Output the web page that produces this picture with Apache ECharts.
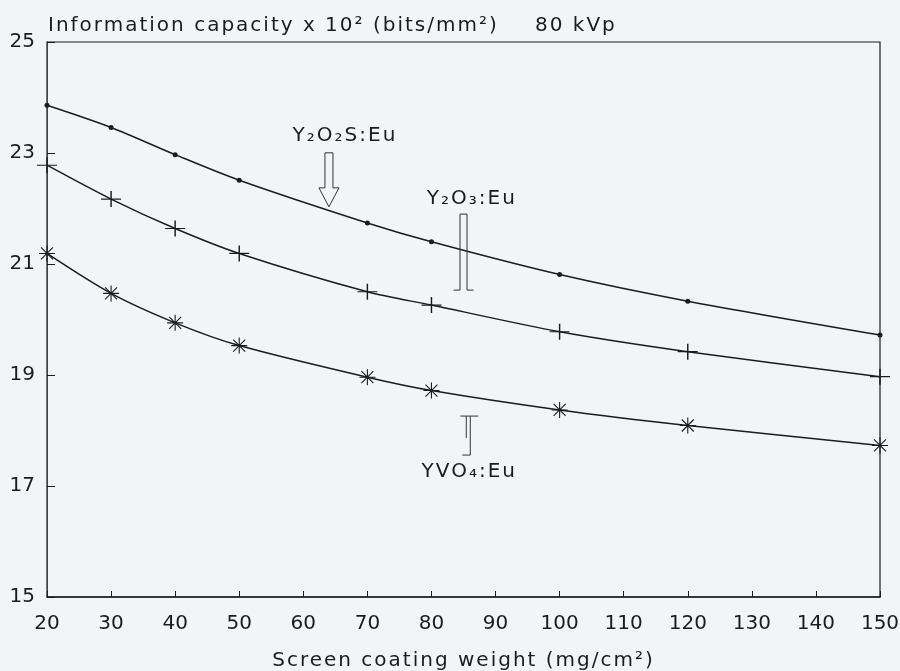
<!DOCTYPE html>
<html>
<head>
<meta charset="utf-8">
<script src="https://cdn.jsdelivr.net/npm/echarts@6/dist/echarts.min.js"></script>
<style>
  html, body { margin: 0; padding: 0; background: #f3f4f6; }
  #main { width: 900px; height: 671px; }
</style>
</head>
<body>
<div id="main"></div>
<script>
  // screen coating weight (mg/cm2)
  const weights = [20, 30, 40, 50, 70, 80, 100, 120, 150];
  // information capacity x 10^2 (bits/mm2)
  const y2o2s = [23.86, 23.46, 22.97, 22.51, 21.74, 21.40, 20.81, 20.33, 19.72];
  const y2o3 = [22.78, 22.17, 21.64, 21.19, 20.50, 20.26, 19.78, 19.42, 18.97];
  const yvo4 = [21.19, 20.47, 19.94, 19.53, 18.96, 18.72, 18.37, 18.09, 17.73];
  const yTicks = [15, 17, 19, 21, 23, 25];
  const xRange = [20, 150];

  const ink = '#1c1c1c';
  const font = 'DejaVu Sans';
  // the plotter lettering is widely spaced; texts in this family get extra tracking
  const spaced = '"DejaVu Sans", sans-serif';

  const fillText = CanvasRenderingContext2D.prototype.fillText;
  CanvasRenderingContext2D.prototype.fillText = function () {
    this.letterSpacing = this.font.indexOf('sans-serif') >= 0 ? '2px' : '0px';
    return fillText.apply(this, arguments);
  };

  const plus = 'path://M0,8 L20,8 M10,0 L10,16';
  const star = 'path://M0,8 L16,8 M8,0 L8,16 M2,2 L14,14 M14,2 L2,14';

  function pairs(ys) {
    return weights.map(function (w, i) { return [w, ys[i]]; });
  }

  function curve(name, ys, symbol, size, width) {
    return {
      name: name,
      type: 'line',
      data: pairs(ys),
      smooth: 0.3,
      symbol: symbol,
      symbolSize: size,
      showAllSymbol: true,
      lineStyle: { color: ink, width: 1.5 },
      itemStyle: { color: ink, borderColor: ink, borderWidth: width },
      z: 3
    };
  }

  const chart = echarts.init(document.getElementById('main'));

  const option = {
    backgroundColor: '#f3f4f6',
    animation: false,
    title: [{
      text: 'Information capacity x 10² (bits/mm²)',
      left: 43, top: 11,
      textStyle: { fontFamily: spaced, fontSize: 20, fontWeight: 'normal', color: ink }
    }, {
      text: '80 kVp',
      left: 530, top: 11,
      textStyle: { fontFamily: spaced, fontSize: 20, fontWeight: 'normal', color: ink }
    }],
    grid: {
      left: 47, right: 20, top: 42, bottom: 74,
      show: true, borderColor: ink, borderWidth: 1.2,
      outerBoundsMode: 'none'
    },
    xAxis: {
      type: 'value',
      min: xRange[0], max: xRange[1], interval: 10,
      name: 'Screen coating weight (mg/cm²)',
      nameLocation: 'middle', nameGap: 54,
      nameTextStyle: { fontFamily: spaced, fontSize: 20, color: ink },
      axisLine: { lineStyle: { color: ink, width: 1.5 } },
      axisTick: { inside: true, length: 6, lineStyle: { color: ink } },
      axisLabel: { fontFamily: font, fontSize: 20, color: ink, margin: 17,
                   showMinLabel: true, showMaxLabel: true },
      splitLine: { show: false }
    },
    yAxis: {
      type: 'value',
      min: yTicks[0], max: yTicks[yTicks.length - 1], interval: 2,
      axisLine: { show: true, lineStyle: { color: '#444', width: 1 } },
      axisTick: { show: true, inside: true, length: 8, lineStyle: { color: ink } },
      axisLabel: { fontFamily: font, fontSize: 20, color: ink, margin: 12,
                   showMinLabel: true, showMaxLabel: true },
      splitLine: { show: false }
    },
    series: [
      curve('Y2O2S:Eu', y2o2s, 'circle', 5, 0),
      curve('Y2O3:Eu', y2o3, plus, [20, 16], 1.3),
      curve('YVO4:Eu', yvo4, star, 16, 1.1)
    ]
  };

  chart.setOption(option);

  // annotations, anchored in data units
  function px(x, y) { return chart.convertToPixel({ gridIndex: 0 }, [x, y]); }

  function label(text, at) {
    const p = px(at[0], at[1]);
    return {
      type: 'text', x: p[0], y: p[1], z: 10,
      style: { text: text, fill: ink, font: '20px ' + spaced,
               align: 'center', verticalAlign: 'middle' }
    };
  }

  function stroke(points, closed) {
    return { type: closed ? 'polygon' : 'polyline', z: 10,
             shape: { points: points },
             style: { fill: null, stroke: '#333', lineWidth: 1 } };
  }

  const tip = px(64.0, 22.03);
  const arrow = [
    [tip[0] - 4, tip[1] - 19], [tip[0] - 4, tip[1] - 54],
    [tip[0] + 4, tip[1] - 54], [tip[0] + 4, tip[1] - 19],
    [tip[0] + 10, tip[1] - 19], [tip[0], tip[1]],
    [tip[0] - 10, tip[1] - 19]
  ];

  const b = px(85.0, 20.53);
  const bracketO3 = [
    [b[0] - 10, b[1]], [b[0] - 3.5, b[1]], [b[0] - 3.5, b[1] - 76],
    [b[0] + 3.5, b[1] - 76], [b[0] + 3.5, b[1]], [b[0] + 10, b[1]]
  ];

  const t = px(85.9, 18.26);
  const vo4Top = [[t[0] - 9, t[1]], [t[0] + 9, t[1]]];
  const vo4Side = [[t[0] + 1, t[1]], [t[0] + 1, t[1] + 39], [t[0] - 7, t[1] + 39]];
  const vo4Inner = [[t[0] - 3, t[1]], [t[0] - 3, t[1] + 22]];

  chart.setOption({
    graphic: [
      label('Y₂O₂S:Eu', [66.5, 23.31]),
      stroke(arrow, true),
      label('Y₂O₃:Eu', [86.3, 22.17]),
      stroke(bracketO3, false),
      label('YVO₄:Eu', [85.9, 17.25]),
      stroke(vo4Top, false),
      stroke(vo4Side, false),
      stroke(vo4Inner, false)
    ]
  });
</script>
</body>
</html>
